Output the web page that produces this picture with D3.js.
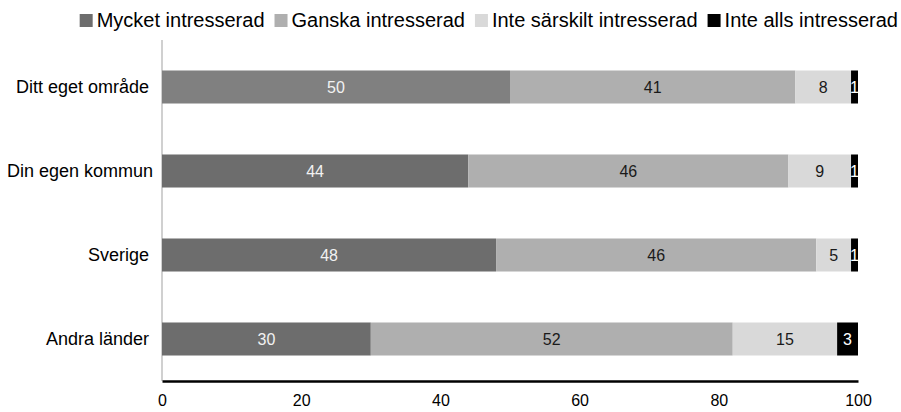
<!DOCTYPE html>
<html>
<head>
<meta charset="utf-8">
<script src="https://cdn.jsdelivr.net/npm/d3@7"></script>
<style>
body{margin:0;background:#fff;}
text{font-family:"Liberation Sans",Arial,sans-serif;}
</style>
</head>
<body>
<div class="chart"></div>
<script>
// data
var categories=["Ditt eget område","Din egen kommun","Sverige","Andra länder"];
var seriesNames=["Mycket intresserad","Ganska intresserad","Inte särskilt intresserad","Inte alls intresserad"];
var mycket=[50,44,48,30];
var ganska=[41,46,46,52];
var inteSarskilt=[8,9,5,15];
var inteAlls=[1,1,1,3];
var xTicks=[0,20,40,60,80,100];

var colors=["#6d6d6d","#afafaf","#d9d9d9","#000000"];
var labelColors=["#f2f2f2","#1a1a1a","#1a1a1a","#ffffff"];
var highlightFill="#808080"; // first row is drawn lighter in the original

var width=901,height=412;
var svg=d3.select('div.chart')
	.append('svg')
	.attr('width',width)
	.attr('height',height);

var rows=categories.map(function(c,i){
	return {cat:c,v:[mycket[i],ganska[i],inteSarskilt[i],inteAlls[i]]};
});

var xScale=d3.scaleLinear().domain([0,100]).range([162,858]);
var yScale=d3.scaleBand().domain(categories).range([45,381]).paddingInner(0.607).paddingOuter(0.3035);

// vertical axis line
svg.append('line')
	.attr('x1',162).attr('x2',162)
	.attr('y1',40).attr('y2',381)
	.attr('stroke','#d0d0d0').attr('stroke-width',2);

// bars
rows.forEach(function(r,ri){
	var acc=0;
	r.v.forEach(function(v,si){
		var x0=xScale(acc),x1=xScale(acc+v);
		acc+=v;
		var fill=colors[si];
		if(si==0 && ri==0) fill=highlightFill;
		svg.append('rect')
			.attr('x',x0)
			.attr('y',yScale(r.cat))
			.attr('width',x1-x0)
			.attr('height',yScale.bandwidth())
			.attr('fill',fill);
		svg.append('text')
			.attr('x',(x0+x1)/2)
			.attr('y',yScale(r.cat)+yScale.bandwidth()/2)
			.attr('dy','0.36em')
			.attr('text-anchor','middle')
			.attr('font-size','16px')
			.attr('fill',labelColors[si])
			.text(v);
	});
});

// category labels
categories.forEach(function(c){
	var t=svg.append('text')
		.attr('x',149)
		.attr('y',yScale(c)+yScale.bandwidth()/2)
		.attr('dy','0.36em')
		.attr('text-anchor','end')
		.attr('font-size','18px')
		.attr('fill','#000')
		.text(c);
	var w=t.node().getComputedTextLength();
	if(149-w<7){
		t.attr('text-anchor','start').attr('x',7);
	}
});

// x axis
var xAxis=svg.append('g')
	.attr('transform','translate(0,381)')
	.call(d3.axisBottom(xScale).tickValues(xTicks).tickSize(0).tickPadding(14));
xAxis.select('.domain').attr('stroke','#000').attr('stroke-width',2.5);
xAxis.selectAll('text')
	.attr('font-size','16px')
	.attr('fill','#000')
	.style('font-family','"Liberation Sans",Arial,sans-serif');

// legend, right aligned
var legend=svg.append('g');
var lx=0;
seriesNames.forEach(function(n,i){
	var g=legend.append('g').attr('transform','translate('+lx+',0)');
	g.append('rect')
		.attr('x',0).attr('y',-13)
		.attr('width',13).attr('height',13)
		.attr('fill',colors[i]);
	var t=g.append('text')
		.attr('x',17).attr('y',0)
		.attr('font-size','20px')
		.attr('fill','#000')
		.text(n);
	lx+=17+t.node().getComputedTextLength()+10;
});
var lw=lx-10;
legend.attr('transform','translate('+(898-lw)+',27)');
</script>
</body>
</html>
